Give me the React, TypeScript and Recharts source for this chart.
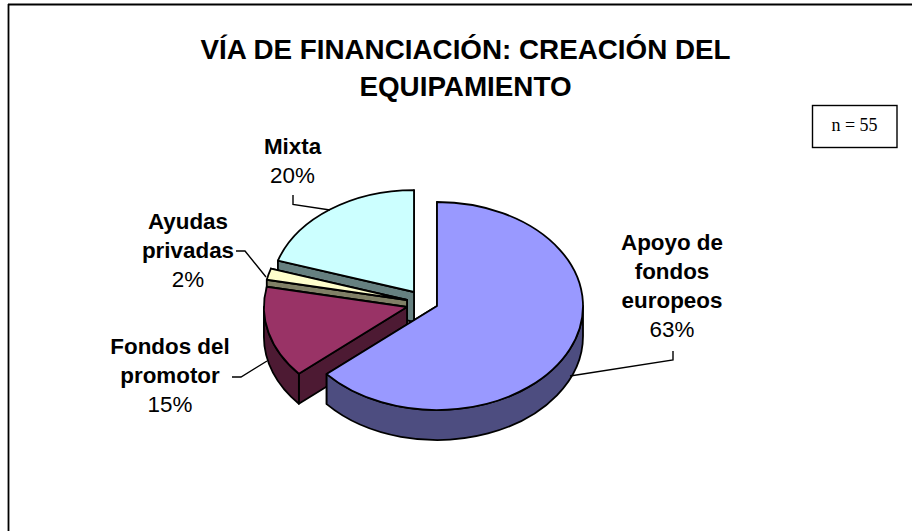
import { PieChart, Pie } from 'recharts';

// Drawn back to front, so the order runs counter-clockwise from 12 o'clock
const categories = ['Mixta', 'Ayudas privadas', 'Fondos del promotor', 'Apoyo de fondos europeos'];
// respondents out of n = 55, the slice angles follow these rather than the rounded labels
const counts = [11, 1, 8, 35];
const labelLines = [['Mixta'], ['Ayudas', 'privadas'], ['Fondos del', 'promotor'], ['Apoyo de', 'fondos', 'europeos']];
const percentLabels = ['20%', '2%', '15%', '63%'];

const titleLines = ['VÍA DE FINANCIACIÓN: CREACIÓN DEL', 'EQUIPAMIENTO'];
const sampleNote = 'n = 55';

const TOP_COLORS = ['#CCFFFF', '#FFFFCC', '#993366', '#9999FF'];
const SIDE_COLORS = ['#668080', '#808066', '#4D1A33', '#4D4D80'];

// layout of the tilted pie
const TILT = 104 / 146;
const DEPTH = 30;
const OUTLINE = 1.8;
const EXPLODE = [[-8, -8], [-15, 0], [-15, 7], [15, 6]];
const RADIUS_SCALE = [0.98, 0.98, 0.98, 1];
const LABEL_X = [292.5, 188, 170, 672];
const LABEL_Y = [154, 229, 354, 250];
const LINE_STEP = 29;
const LEADERS = [
  '293,195 293,204.5 330,210',
  '236,251 245,251 266,277',
  '232,377 241,377 267,361',
  '673,351 673,360 570,376',
];

const data = categories.map((name, i) => ({ name, value: counts[i] }));

function TiltedSlice(props: any) {
  const { cx, cy, outerRadius, startAngle, endAngle, index } = props;
  const rx = outerRadius * RADIUS_SCALE[index];
  const ry = rx * TILT;
  const ox = cx + EXPLODE[index][0];
  const oy = cy + EXPLODE[index][1];
  const pt = (deg: number, drop = 0) => {
    const rad = (deg * Math.PI) / 180;
    return `${ox + rx * Math.cos(rad)} ${oy - ry * Math.sin(rad) + drop}`;
  };
  const arc = (deg: number, sweep: number, large = 0) => `A ${rx} ${ry} 0 ${large} ${sweep} ${pt(deg)}`;
  const arcLow = (deg: number, sweep: number) => `A ${rx} ${ry} 0 0 ${sweep} ${pt(deg, DEPTH)}`;

  const wall = (deg: number) =>
    `M ${ox} ${oy} L ${pt(deg)} L ${pt(deg, DEPTH)} L ${ox} ${oy + DEPTH} Z`;

  const rimFrom = Math.max(startAngle, 180);
  const rimTo = Math.min(endAngle, 360);
  const rim =
    rimTo > rimFrom
      ? `M ${pt(rimFrom)} ${arc(rimTo, 0)} L ${pt(rimTo, DEPTH)} ${arcLow(rimFrom, 1)} Z`
      : null;
  const large = endAngle - startAngle > 180 ? 1 : 0;
  const top = `M ${ox} ${oy} L ${pt(startAngle)} ${arc(endAngle, 0, large)} Z`;

  const side = { fill: SIDE_COLORS[index], stroke: '#000', strokeWidth: OUTLINE, strokeLinejoin: 'round' as const };
  return (
    <g>
      <path d={wall(startAngle)} {...side} />
      <path d={wall(endAngle)} {...side} />
      {rim && <path d={rim} {...side} />}
      <path d={top} fill={TOP_COLORS[index]} stroke="#000" strokeWidth={OUTLINE} strokeLinejoin="round" />
    </g>
  );
}

function SliceLabel(props: any) {
  const { index } = props;
  const lines = labelLines[index];
  const x = LABEL_X[index];
  const y = LABEL_Y[index];
  return (
    <g fontFamily="'Liberation Sans', Arial, sans-serif" fontSize={22.4} fill="#000" textAnchor="middle">
      {lines.map((line, i) => (
        <text key={line} x={x} y={y + i * LINE_STEP} fontWeight="bold">
          {line}
        </text>
      ))}
      <text x={x} y={y + lines.length * LINE_STEP}>
        {percentLabels[index]}
      </text>
      <polyline points={LEADERS[index]} fill="none" stroke="#000" strokeWidth={1.4} />
    </g>
  );
}

export default function App() {
  return (
    <div style={{ position: 'absolute', left: 0, top: 0, width: 912, height: 531, overflow: 'hidden', background: '#fff' }}>
      <PieChart width={912} height={531} margin={{ top: 0, right: 0, bottom: 0, left: 0 }}>
        <line x1={8} y1={4.5} x2={912} y2={4.5} stroke="#000" strokeWidth={1.8} />
        <line x1={8.5} y1={4} x2={8.5} y2={531} stroke="#000" strokeWidth={1.8} />
        <g fontFamily="'Liberation Sans', Arial, sans-serif" fontSize={27.8} fontWeight="bold" textAnchor="middle">
          {titleLines.map((line, i) => (
            <text key={line} x={465.5} y={59 + i * 37}>
              {line}
            </text>
          ))}
        </g>
        <rect x={812.5} y={105.5} width={84.5} height={42} fill="#fff" stroke="#000" strokeWidth={1.4} />
        <text x={854.5} y={131} fontFamily="'Liberation Serif', 'Times New Roman', serif" fontSize={18} textAnchor="middle">
          {sampleNote}
        </text>
        <Pie
          data={data}
          dataKey="value"
          nameKey="name"
          cx={422}
          cy={300}
          outerRadius={146}
          startAngle={90}
          endAngle={450}
          paddingAngle={0}
          isAnimationActive={false}
          shape={TiltedSlice}
          label={SliceLabel}
          labelLine={false}
        />
      </PieChart>
    </div>
  );
}
